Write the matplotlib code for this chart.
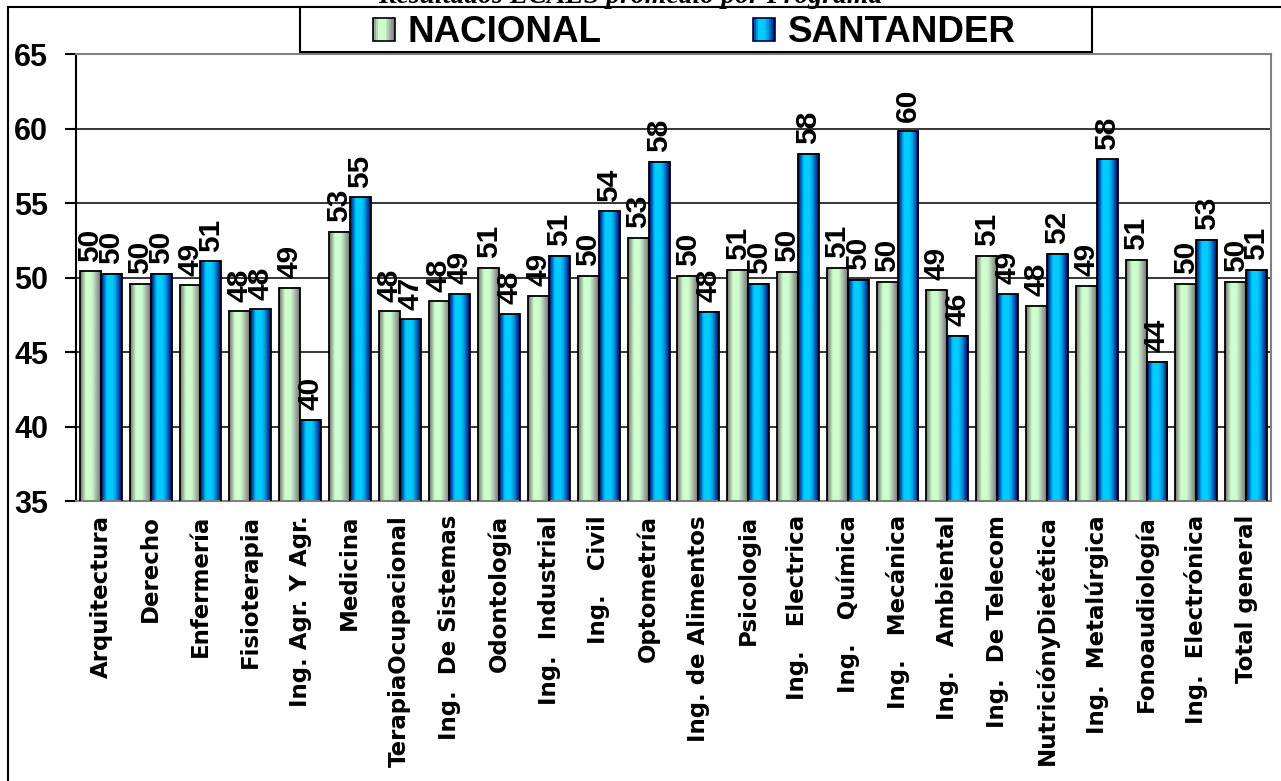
import numpy as np
import matplotlib
matplotlib.use("Agg")
import matplotlib.pyplot as plt
from matplotlib.colors import LinearSegmentedColormap
from matplotlib.patches import Rectangle, Patch
from matplotlib.legend_handler import HandlerBase

# ---------------- data ----------------
programas = [
    "Arquitectura", "Derecho", "Enfermería", "Fisioterapia", "Ing. Agr. Y Agr.",
    "Medicina", "TerapiaOcupacional", "Ing.  De Sistemas", "Odontología",
    "Ing.  Industrial", "Ing.   Civil", "Optometría", "Ing. de Alimentos",
    "Psicologia", "Ing.   Electrica", "Ing.   Química", "Ing.   Mecánica",
    "Ing.   Ambiental", "Ing.  De Telecom", "NutriciónyDietética",
    "Ing.  Metalúrgica", "Fonoaudiología", "Ing.  Electrónica", "Total general",
]
nacional = [50.42, 49.60, 49.48, 47.74, 49.33, 53.09, 47.74, 48.40, 50.67,
            48.77, 50.13, 52.69, 50.13, 50.52, 50.40, 50.67, 49.70, 49.20,
            51.46, 48.12, 49.46, 51.20, 49.57, 49.73]
santander = [50.27, 50.27, 51.10, 47.87, 40.45, 55.40, 47.20, 48.90, 47.55,
             51.46, 54.46, 57.80, 47.70, 49.60, 58.33, 49.87, 59.83, 46.10,
             48.90, 51.60, 57.95, 44.35, 52.55, 50.54]
series_names = ["NACIONAL", "SANTANDER"]
yticks = [35, 40, 45, 50, 55, 60, 65]
titulo = "Resultados ECAES promedio por Programa"

# ---------------- figure ----------------
W, H = 1281, 781
fig = plt.figure(figsize=(W / 100, H / 100), dpi=100)
fig.patch.set_facecolor("white")

ax = fig.add_axes([76 / W, 1 - 501 / H, (1271 - 76) / W, (501 - 54.3) / H])

cmap_n = LinearSegmentedColormap.from_list("nac", [
    (0.0, "#6f786f"), (0.12, "#9aa89a"), (0.28, "#ccffcc"), (0.55, "#ccffcc"),
    (0.72, "#b4c8b4"), (0.88, "#8f998f"), (1.0, "#6a726a")])
cmap_s = LinearSegmentedColormap.from_list("san", [
    (0.0, "#000066"), (0.12, "#0058b0"), (0.28, "#00ccff"), (0.55, "#00ccff"),
    (0.7, "#009ee0"), (0.86, "#0050a8"), (1.0, "#000070")])
grad = np.linspace(0, 1, 64).reshape(1, -1)

x = np.arange(len(programas))
bw = 0.42
bars_n = ax.bar(x - bw / 2, nacional, bw, facecolor="none", edgecolor="black",
                linewidth=1.3, zorder=3)
bars_s = ax.bar(x + bw / 2, santander, bw, facecolor="none", edgecolor="black",
                linewidth=1.3, zorder=3)

for bars, cm in ((bars_n, cmap_n), (bars_s, cmap_s)):
    for r in bars:
        bx, by, bwid, bh = r.get_x(), r.get_y(), r.get_width(), r.get_height()
        ax.imshow(grad, extent=(bx, bx + bwid, by, by + bh), aspect="auto",
                  cmap=cm, zorder=2.5, interpolation="bilinear")

for bars, vals in ((bars_n, nacional), (bars_s, santander)):
    for r, v in zip(bars, vals):
        ax.annotate(f"{round(v):d}", (r.get_x() + r.get_width() / 2, v),
                    xytext=(0, 7), textcoords="offset points", rotation=90,
                    ha="center", va="bottom", fontsize=21.5, fontweight="bold",
                    family="Liberation Sans", zorder=5)

ax.set_xlim(-0.5, len(programas) - 0.5)
ax.set_ylim(35, 65)
ax.set_yticks(yticks)
ax.yaxis.grid(True, color="black", linewidth=1.1, zorder=1)
ax.set_axisbelow(True)
ax.set_yticklabels([str(t) for t in yticks], fontsize=22, fontweight="bold",
                   family="Liberation Sans")
ax.tick_params(axis="y", length=8, width=1.5, pad=12, color="black")
ax.set_xticks(x)
ax.set_xticklabels(programas, rotation=90, ha="center", va="top",
                   fontsize=16.5, fontweight="bold", family="DejaVu Sans")
ax.tick_params(axis="x", length=0, pad=10)

ax.spines["left"].set_color("black")
ax.spines["left"].set_linewidth(1.5)
for s in ("top", "right", "bottom"):
    ax.spines[s].set_color("#808080")
    ax.spines[s].set_linewidth(1.5)

# outer chart border (right/bottom fall outside image)
fig.patches.append(Rectangle((7.5 / W, -0.05), 1.05, 1 - 6.7 / H + 0.05,
                             transform=fig.transFigure, fill=False,
                             edgecolor="black", linewidth=1.5, zorder=0))
# legend box
fig.patches.append(Rectangle((300 / W, 1 - 52.3 / H), (1092 - 300) / W,
                             (52.3 - 6.7) / H, transform=fig.transFigure,
                             facecolor="white", edgecolor="black",
                             linewidth=1.5, zorder=1))


class GradientHandler(HandlerBase):
    def __init__(self, cmap, edge):
        super().__init__()
        self.cmap = cmap
        self.edge = edge

    def create_artists(self, legend, orig_handle, xdescent, ydescent, width,
                       height, fontsize, trans):
        n = 12
        arts = []
        for i in range(n):
            arts.append(Rectangle((-xdescent + width * i / n, -ydescent),
                                  width / n, height, transform=trans,
                                  facecolor=self.cmap((i + 0.5) / n),
                                  edgecolor="none"))
        arts.append(Rectangle((-xdescent, -ydescent), width, height,
                              transform=trans, facecolor="none",
                              edgecolor=self.edge, linewidth=1.2))
        return arts


handles = [Patch(facecolor="#ccffcc"), Patch(facecolor="#00ccff")]
fig.legend(handles, series_names, loc="center", ncol=2, frameon=False,
           bbox_to_anchor=(694 / W, 1 - 33 / H), handlelength=0.6,
           handleheight=0.6, handletextpad=0.35, columnspacing=4.1,
           handler_map={handles[0]: GradientHandler(cmap_n, "black"),
                        handles[1]: GradientHandler(cmap_s, "#000044")},
           prop={"family": "Liberation Sans", "weight": "bold", "size": 26.5})

fig.text(630 / W, 1 - 3 / H, titulo, ha="center", va="baseline",
         fontsize=20, fontweight="bold", fontstyle="italic",
         family="Liberation Serif", zorder=10)

fig.savefig("out.png", dpi=100)
